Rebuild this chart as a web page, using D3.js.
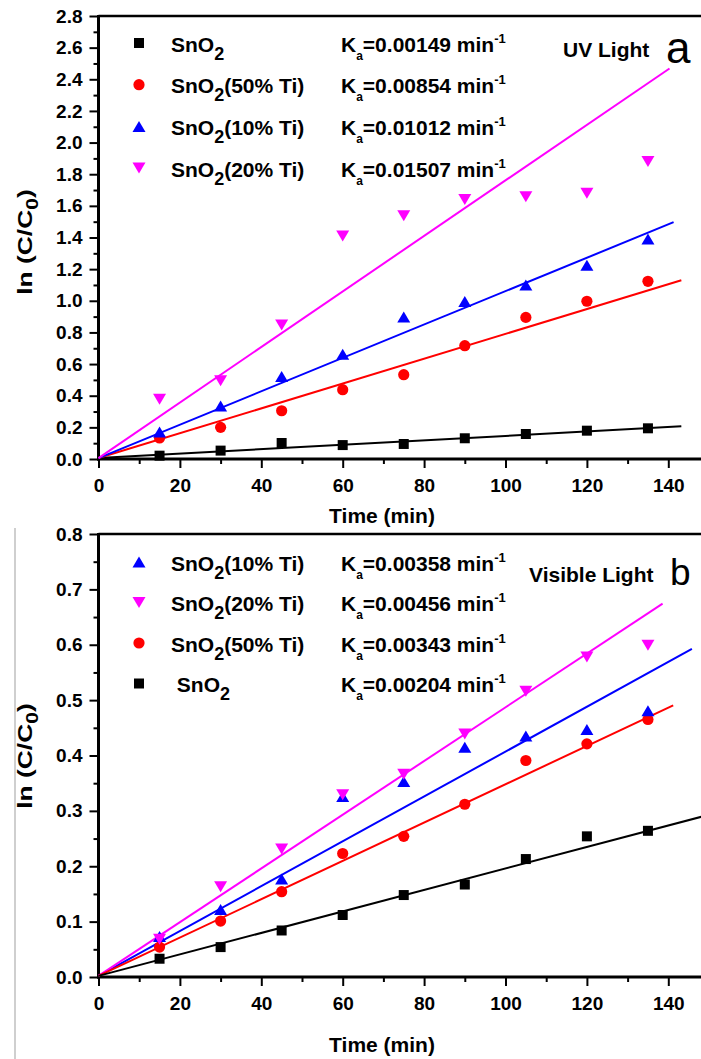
<!DOCTYPE html>
<html>
<head>
<meta charset="utf-8">
<script src="https://cdn.jsdelivr.net/npm/d3@7"></script>
<style>
  html, body { margin: 0; padding: 0; background: #fff; }
  svg { display: block; font-family: "Liberation Sans", Arial, Helvetica, sans-serif; font-weight: bold; }
</style>
</head>
<body>
<svg id="chart" width="701" height="1059"></svg>
<script>
// Sampling times (min)
const time = [15, 30, 45, 60, 75, 90, 105, 120, 135];

// (a) UV light: ln(C/C0) per sample
const uvSeries = ["SnO2", "SnO2(50% Ti)", "SnO2(10% Ti)", "SnO2(20% Ti)"];
const uvRate = [0.00149, 0.00854, 0.01012, 0.01507];
const uvSnO2 = [0.021, 0.053, 0.101, 0.088, 0.095, 0.131, 0.158, 0.179, 0.194];
const uvTi50 = [0.133, 0.200, 0.305, 0.438, 0.533, 0.716, 0.895, 0.997, 1.123];
const uvTi10 = [0.170, 0.335, 0.522, 0.662, 0.897, 0.995, 1.100, 1.225, 1.390];
const uvTi20 = [0.378, 0.495, 0.847, 1.410, 1.538, 1.640, 1.658, 1.680, 1.880];
// linear fits drawn over each series: slope, intercept, last time point of the line
const uvFitSlope = [0.00140, 0.00785, 0.01055, 0.01755];
const uvFitIntercept = [0.006, 0.006, 0.006, 0.006];
const uvFitEnd = [143.2, 143.2, 141.3, 140.3];

// (b) visible light
const visSeries = ["SnO2(10% Ti)", "SnO2(20% Ti)", "SnO2(50% Ti)", " SnO2"];
const visRate = [0.00358, 0.00456, 0.00343, 0.00204];
const visTi10 = [0.073, 0.122, 0.177, 0.326, 0.353, 0.415, 0.435, 0.447, 0.481];
const visTi20 = [0.068, 0.163, 0.231, 0.329, 0.366, 0.439, 0.516, 0.578, 0.599];
const visTi50 = [0.054, 0.101, 0.154, 0.223, 0.254, 0.312, 0.391, 0.421, 0.465];
const visSnO2 = [0.033, 0.054, 0.084, 0.112, 0.148, 0.167, 0.213, 0.254, 0.264];
const visFitSlope = [0.00405, 0.00485, 0.00346, 0.00194];
const visFitIntercept = [0.002, 0.002, 0.002, 0.002];
const visFitEnd = [145.8, 138.6, 141.2, 150];

// Axis ticks
const xMajor = [0, 20, 40, 60, 80, 100, 120, 140];
const xMinor = [10, 30, 50, 70, 90, 110, 130, 150];
const uvYMajor = [0, 0.2, 0.4, 0.6, 0.8, 1.0, 1.2, 1.4, 1.6, 1.8, 2.0, 2.2, 2.4, 2.6, 2.8];
const uvYMinor = [0.1, 0.3, 0.5, 0.7, 0.9, 1.1, 1.3, 1.5, 1.7, 1.9, 2.1, 2.3, 2.5, 2.7];
const visYMajor = [0, 0.1, 0.2, 0.3, 0.4, 0.5, 0.6, 0.7, 0.8];
const visYMinor = [0.05, 0.15, 0.25, 0.35, 0.45, 0.55, 0.65, 0.75];

// Marker style per sample type
const styleOf = {
  "SnO2": { color: "#000000", shape: "square" },
  "SnO2(50% Ti)": { color: "#ff0000", shape: "circle" },
  "SnO2(10% Ti)": { color: "#0000ff", shape: "up" },
  "SnO2(20% Ti)": { color: "#ff00ff", shape: "down" }
};
const shapePath = {
  square: "M-5,-5h10v10h-10Z",
  up: "M0,-5.5L6.5,5.5L-6.5,5.5Z",
  down: "M0,5.5L6.5,-5.5L-6.5,-5.5Z"
};

const FONT = '"Liberation Sans", Arial, Helvetica, sans-serif';
const svg = d3.select("#chart");
const W = 701;

const x = d3.scaleLinear().domain([0, 150]).range([98.5, 98.5 + 150 * 4.07]);

function drawMarker(g, name, cx, cy) {
  const st = styleOf[name.trim()];
  if (st.shape === "circle") {
    g.append("circle").attr("cx", cx).attr("cy", cy).attr("r", 5.6).attr("fill", st.color);
  } else {
    g.append("path").attr("d", shapePath[st.shape])
      .attr("transform", `translate(${cx},${cy})`).attr("fill", st.color);
  }
}

// Writes "SnO2..." with the 2 as a subscript
function writeFormula(t, label) {
  const i = label.indexOf("SnO") + 3;
  t.append("tspan").text(label.slice(0, i));
  t.append("tspan").attr("font-size", 18).attr("dy", 8).text("2");
  const rest = label.slice(i + 1);
  if (rest) t.append("tspan").attr("dy", -8).text(rest);
}

function writeRate(t, k) {
  t.append("tspan").text("K");
  t.append("tspan").attr("font-size", 12).attr("dy", 8).text("a");
  t.append("tspan").attr("dy", -8).text("=" + d3.format(".5f")(k) + " min");
  t.append("tspan").attr("font-size", 13).attr("dy", -9).text("-1");
}

function drawPanel(cfg) {
  const g = svg.append("g");
  const y = d3.scaleLinear().domain(cfg.yDomain).range([cfg.yBottom, cfg.yTop]);

  // y axis: minor then major ticks
  const yMinorG = g.append("g").attr("transform", `translate(${x(0)},0)`)
    .call(d3.axisLeft(y).tickValues(cfg.yMinor).tickSize(5).tickFormat(""));
  const yMajorG = g.append("g").attr("transform", `translate(${x(0)},0)`)
    .call(d3.axisLeft(y).tickValues(cfg.yMajor).tickSize(9).tickPadding(7)
      .tickFormat(d3.format(cfg.yFmt)));
  // x axis
  const xMinorG = g.append("g").attr("transform", `translate(0,${y(0)})`)
    .call(d3.axisBottom(x).tickValues(xMinor).tickSize(5).tickFormat(""));
  const xMajorG = g.append("g").attr("transform", `translate(0,${y(0)})`)
    .call(d3.axisBottom(x).tickValues(xMajor).tickSize(9).tickPadding(11)
      .tickFormat(d3.format("d")));

  [yMinorG, yMajorG, xMinorG, xMajorG].forEach(a => {
    a.select(".domain").remove();
    a.attr("font-family", FONT).attr("font-size", 19).attr("font-weight", "bold");
    a.selectAll(".tick line").attr("stroke", "#000").attr("stroke-width", 2);
    a.selectAll(".tick text").attr("fill", "#000");
  });

  // frame: left & bottom axes, top border
  g.append("line").attr("x1", x(0)).attr("x2", x(0))
    .attr("y1", y(cfg.yDomain[1]) - 1).attr("y2", y(0) + 1.5)
    .attr("stroke", "#000").attr("stroke-width", 3);
  g.append("line").attr("x1", x(0) - 1.5).attr("x2", W)
    .attr("y1", y(0)).attr("y2", y(0))
    .attr("stroke", "#000").attr("stroke-width", 3);
  g.append("line").attr("x1", x(0)).attr("x2", W)
    .attr("y1", y(cfg.yDomain[1])).attr("y2", y(cfg.yDomain[1]))
    .attr("stroke", "#000").attr("stroke-width", 2.5);

  // fitted lines
  cfg.series.forEach((name, i) => {
    const st = styleOf[name.trim()];
    const f = t => cfg.fitIntercept[i] + cfg.fitSlope[i] * t;
    g.append("line")
      .attr("x1", x(0)).attr("y1", y(f(0)))
      .attr("x2", x(cfg.fitEnd[i])).attr("y2", y(f(cfg.fitEnd[i])))
      .attr("stroke", st.color).attr("stroke-width", 2);
  });

  // data points
  cfg.drawOrder.forEach(i => {
    const name = cfg.series[i];
    cfg.values[i].forEach((v, j) => drawMarker(g, name, x(time[j]), y(v)));
  });

  // legend
  cfg.series.forEach((name, i) => {
    const cy = cfg.legendY + i * cfg.legendStep;
    drawMarker(g, name, 139, cy);
    const t1 = g.append("text").attr("x", 171).attr("y", cy + 8.5)
      .attr("font-size", 21).attr("fill", "#000").style("white-space", "pre");
    writeFormula(t1, name);
    const t2 = g.append("text").attr("x", 341).attr("y", cy + 8.5)
      .attr("font-size", 21).attr("fill", "#000");
    writeRate(t2, cfg.rates[i]);
  });

  // light source caption and panel letter
  g.append("text").attr("x", cfg.captionX).attr("y", cfg.captionY)
    .attr("font-size", 21).attr("fill", "#000").text(cfg.caption);
  g.append("text").attr("x", cfg.letterX).attr("y", cfg.letterY)
    .attr("font-size", cfg.letterSize).attr("font-weight", "normal")
    .attr("fill", "#000").text(cfg.letter);

  // axis titles
  g.append("text").attr("x", 382).attr("y", cfg.xTitleY).attr("text-anchor", "middle")
    .attr("font-size", 21).attr("fill", "#000").text("Time (min)");
  const yl = g.append("text")
    .attr("transform", `translate(32,${cfg.yTitleMid}) rotate(-90) scale(1.32,1)`)
    .attr("text-anchor", "middle").attr("font-size", 20).attr("fill", "#000");
  yl.append("tspan").text("ln (C/C");
  yl.append("tspan").attr("font-size", 16).attr("dy", 6).text("0");
  yl.append("tspan").attr("dy", -6).text(")");
}

drawPanel({
  yDomain: [0, 2.8], yBottom: 459, yTop: 16, yFmt: ".1f",
  yMajor: uvYMajor, yMinor: uvYMinor,
  series: uvSeries, rates: uvRate,
  values: [uvSnO2, uvTi50, uvTi10, uvTi20],
  fitSlope: uvFitSlope, fitIntercept: uvFitIntercept, fitEnd: uvFitEnd,
  drawOrder: [0, 1, 2, 3],
  legendY: 43, legendStep: 41.7,
  caption: "UV Light", captionX: 563, captionY: 57,
  letter: "a", letterX: 666, letterY: 63, letterSize: 44,
  xTitleY: 523, yTitleMid: 242
});

drawPanel({
  yDomain: [0, 0.8], yBottom: 977, yTop: 534, yFmt: ".1f",
  yMajor: visYMajor, yMinor: visYMinor,
  series: visSeries, rates: visRate,
  values: [visTi10, visTi20, visTi50, visSnO2],
  fitSlope: visFitSlope, fitIntercept: visFitIntercept, fitEnd: visFitEnd,
  drawOrder: [3, 2, 0, 1],
  legendY: 562, legendStep: 40.5,
  caption: "Visible Light", captionX: 529, captionY: 582,
  letter: "b", letterX: 670, letterY: 585, letterSize: 37,
  xTitleY: 1052, yTitleMid: 756
});

// thin grey rule along the left side of the lower panel
svg.append("line").attr("x1", 15).attr("x2", 15).attr("y1", 528).attr("y2", 1059)
  .attr("stroke", "#cfcfcf").attr("stroke-width", 2);
</script>
</body>
</html>
